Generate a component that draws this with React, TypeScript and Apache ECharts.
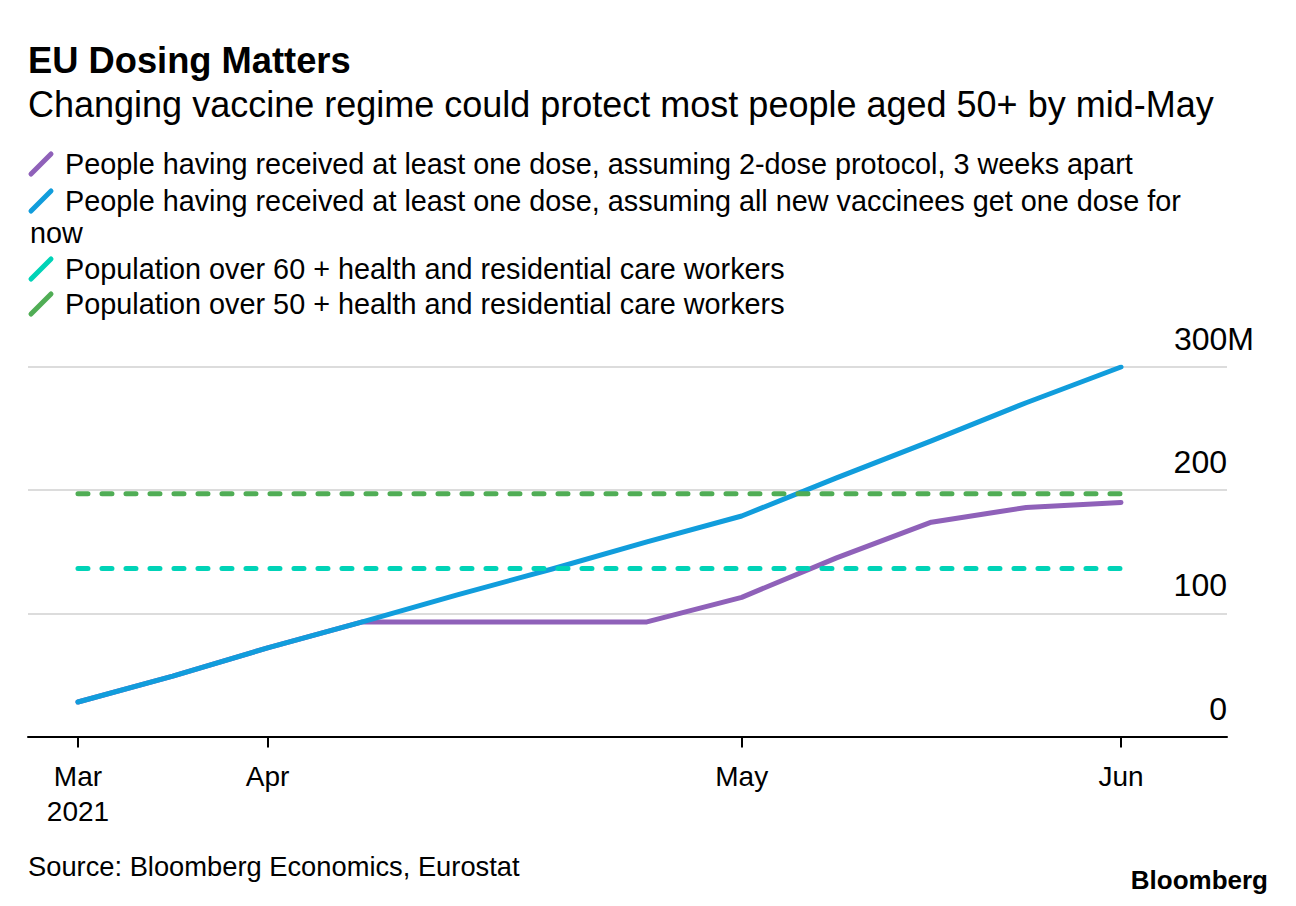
import React, { useEffect, useRef } from "react";
import * as echarts from "echarts";

// ---- data ----
const weekIndex = [0, 1, 2, 3, 4, 5, 6, 7, 8, 9, 10, 11];
const twoDoseProtocol = [28, 49, 72, 93, 93, 93, 93, 113, 145, 174, 186, 190];
const oneDoseForNow = [28, 49, 72, 93, 115, 136, 158, 179, 210, 240, 271, 300];
const over60Target = 136.5;
const over50Target = 197;
const monthTickPositions = [0, 2, 7, 11];
const monthTickLabels = ["Mar\n2021", "Apr", "May", "Jun"];
const yTicks = [0, 100, 200, 300];

const seriesNames = [
  "People having received at least one dose, assuming 2-dose protocol, 3 weeks apart",
  "People having received at least one dose, assuming all new vaccinees get one dose for",
  "Population over 60 + health and residential care workers",
  "Population over 50 + health and residential care workers",
];

const PURPLE = "#8f61b9";
const BLUE = "#119ddc";
const CYAN = "#00d3b7";
const GREEN = "#50ad55";
const FONT = "'Liberation Sans', Arial, sans-serif";

export default function App() {
  const ref = useRef<HTMLDivElement>(null);

  useEffect(() => {
    if (!ref.current) return;
    const chart = echarts.init(ref.current, undefined, { renderer: "svg" });

    const pairs = (ys: number[]) => weekIndex.map((x, i) => [x, ys[i]]);
    const flat = (v: number) => weekIndex.map((x) => [x, v]);

    const legendRows = [
      { y: 164, color: PURPLE, text: seriesNames[0] },
      { y: 201, color: BLUE, text: seriesNames[1] },
      { y: 269, color: CYAN, text: seriesNames[2] },
      { y: 304, color: GREEN, text: seriesNames[3] },
    ];

    const txt = (x: number, y: number, text: string, font: string, align = "left") => ({
      type: "text",
      x,
      y,
      style: { text, font, fill: "#000", align, verticalAlign: "middle" },
    });

    const graphics: any[] = [
      txt(28, 60, "EU Dosing Matters", `bold 36.3px ${FONT}`),
      txt(28, 104, "Changing vaccine regime could protect most people aged 50+ by mid-May", `36px ${FONT}`),
      txt(30, 233, "now", `28.8px ${FONT}`),
      txt(28, 866, "Source: Bloomberg Economics, Eurostat", `27.3px ${FONT}`),
      txt(1268, 880, "Bloomberg", `bold 26px ${FONT}`, "right"),
    ];
    legendRows.forEach((r) => {
      graphics.push({
        type: "line",
        shape: { x1: 31, y1: r.y + 10, x2: 51, y2: r.y - 10 },
        style: { stroke: r.color, lineWidth: 5, lineCap: "round" },
      });
      graphics.push(txt(65, r.y, r.text, `28.8px ${FONT}`));
    });

    const option: any = {
      animation: false,
      backgroundColor: "#fff",
      grid: { left: 28, right: 69, top: 367, bottom: 169.5, containLabel: false },
      xAxis: {
        type: "value",
        min: -0.527,
        max: 12.118,
        splitLine: { show: false },
        axisLine: { show: true, onZero: false, lineStyle: { color: "#000", width: 2 } },
        axisTick: {
          show: true,
          customValues: monthTickPositions,
          length: 11,
          lineStyle: { color: "#000", width: 2 },
        },
        axisLabel: {
          customValues: monthTickPositions,
          margin: 22,
          fontFamily: FONT,
          fontSize: 28,
          lineHeight: 35,
          color: "#000",
          formatter: (v: number) => {
            const i = monthTickPositions.indexOf(Math.round(v));
            return i >= 0 ? monthTickLabels[i] : "";
          },
        },
      },
      yAxis: {
        type: "value",
        position: "right",
        min: 0,
        max: 300,
        interval: 100,
        axisLine: { show: false },
        axisTick: { show: false },
        splitLine: { show: true, lineStyle: { color: "#dcdcdc", width: 2 } },
        axisLabel: {
          inside: false,
          margin: 27,
          align: "right",
          verticalAlign: "bottom",
          padding: [0, 0, 12, 0],
          customValues: yTicks,
          formatter: (v: number) => (v === 300 ? "{b|300M}" : `{a|${v}}`),
          rich: {
            a: {
              fontFamily: FONT,
              fontSize: 32,
              lineHeight: 32,
              color: "#000",
              padding: [0, 27, 0, 0],
            },
            b: {
              fontFamily: FONT,
              fontSize: 32,
              lineHeight: 32,
              color: "#000",
            },
          },
        },
      },
      series: [
        {
          name: seriesNames[0],
          type: "line",
          data: pairs(twoDoseProtocol),
          showSymbol: false,
          lineStyle: { color: PURPLE, width: 5, cap: "round", join: "round" },
          z: 2,
        },
        {
          name: seriesNames[1],
          type: "line",
          data: pairs(oneDoseForNow),
          showSymbol: false,
          lineStyle: { color: BLUE, width: 5, cap: "round", join: "round" },
          z: 3,
        },
        {
          name: seriesNames[2],
          type: "line",
          data: flat(over60Target),
          showSymbol: false,
          lineStyle: { color: CYAN, width: 5, type: [10, 14], cap: "round" },
          z: 4,
        },
        {
          name: seriesNames[3],
          type: "line",
          data: flat(over50Target),
          showSymbol: false,
          lineStyle: { color: GREEN, width: 5, type: [10, 14], cap: "round" },
          z: 4,
        },
      ],
      graphic: graphics,
    };

    chart.setOption(option);
    return () => chart.dispose();
  }, []);

  return (
    <div
      ref={ref}
      style={{ position: "fixed", left: 0, top: 0, width: 1296, height: 906, background: "#fff" }}
    />
  );
}
